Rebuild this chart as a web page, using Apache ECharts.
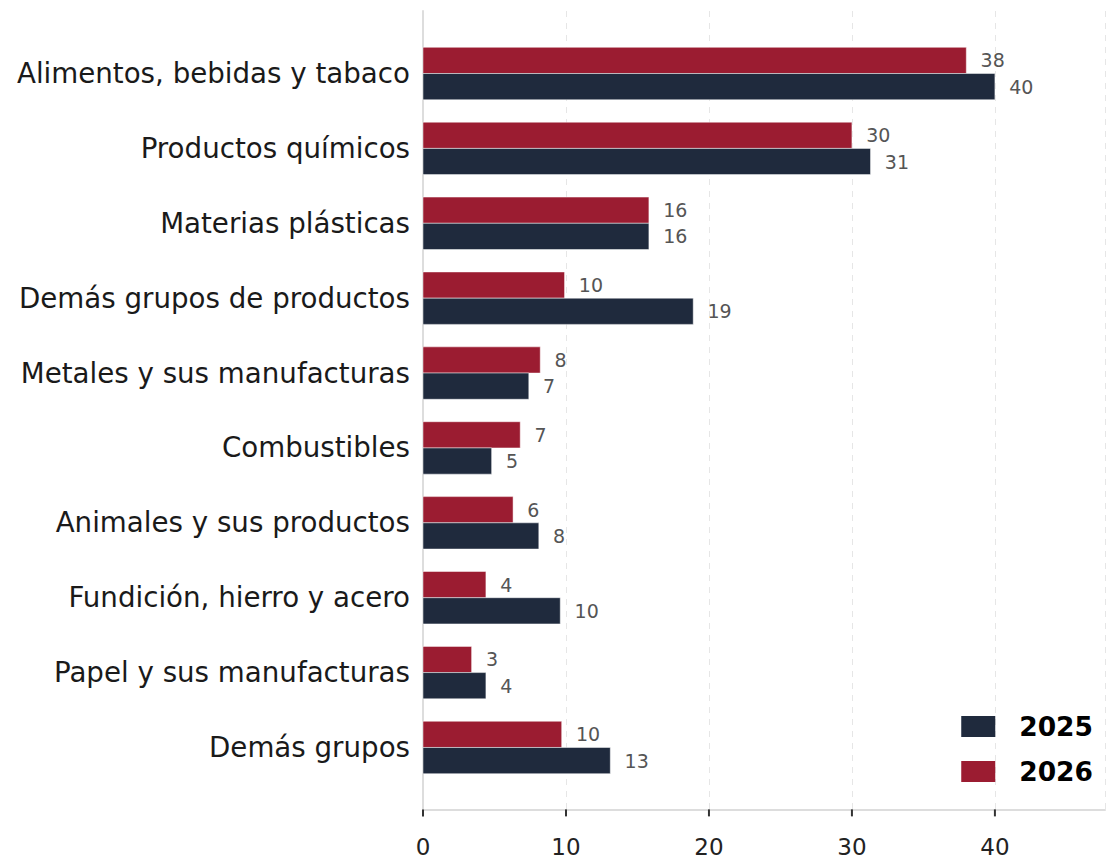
<!DOCTYPE html>
<html>
<head>
<meta charset="utf-8">
<script src="https://cdn.jsdelivr.net/npm/echarts@6/dist/echarts.min.js"></script>
<style>html,body{margin:0;padding:0;background:#fff}#c{width:1107px;height:861px}</style>
</head>
<body>
<div id="c"></div>
<script>
const categories = ["Alimentos, bebidas y tabaco","Productos químicos","Materias plásticas","Demás grupos de productos","Metales y sus manufacturas","Combustibles","Animales y sus productos","Fundición, hierro y acero","Papel y sus manufacturas","Demás grupos"];
const values2025 = [40.0, 31.3, 15.8, 18.9, 7.4, 4.8, 8.1, 9.6, 4.4, 13.1];
const values2026 = [38.0, 30.0, 15.8, 9.9, 8.2, 6.8, 6.3, 4.4, 3.4, 9.7];
const xTicks = [0, 10, 20, 30, 40];

const FONT = "DejaVu Sans";
const NAVY = "#1f2a3d";
const RED = "#9b1c31";
const BARH = 0.35;
const Y_MIN = -0.835, Y_MAX = 9.835;

function makeRender(color, side) {
  return function (params, api) {
    const i = api.value(1);
    const v = api.value(0);
    const y0 = side < 0 ? i - BARH : i;
    const y1 = side < 0 ? i : i + BARH;
    const p0 = api.coord([0, y0]);
    const p1 = api.coord([v, y1]);
    const top = Math.min(p0[1], p1[1]);
    const h = Math.abs(p1[1] - p0[1]);
    const lbl = api.coord([v + 1, (y0 + y1) / 2]);
    return {
      type: 'group',
      children: [
        { type: 'rect', shape: { x: p0[0], y: top, width: p1[0] - p0[0], height: h },
          style: { fill: color, stroke: 'rgba(255,255,255,0.6)', lineWidth: 0.8 } },
        { type: 'text', x: lbl[0], y: lbl[1],
          style: { text: String(Math.round(v)), fill: '#555', font: '19px "' + FONT + '"',
                   textAlign: 'left', textVerticalAlign: 'middle' } }
      ]
    };
  };
}

function renderTick(params, api) {
  const p = api.coord([api.value(0), api.value(1)]);
  return { type: 'rect', z2: 100, shape: { x: p[0] - 1, y: p[1] + 2, width: 2, height: 7 },
           style: { fill: '#333333' } };
}

const chart = echarts.init(document.getElementById('c'), null, { renderer: 'svg' });
chart.setOption({
  animation: false,
  textStyle: { fontFamily: FONT },
  grid: { left: 423, right: 2, top: 11, bottom: 51, containLabel: false },
  xAxis: {
    type: 'value', min: 0, max: 47.7, interval: 10,
    axisLine: { show: true, onZero: false, lineStyle: { color: '#dddddd', width: 2 } },
    axisTick: { show: false },
    axisLabel: { color: '#222', fontSize: 23, margin: 25, customValues: xTicks, fontFamily: FONT },
    splitLine: { show: true, lineStyle: { color: '#e6e6e6', type: [6, 6], width: 1 } }
  },
  yAxis: {
    type: 'value', inverse: true, min: Y_MIN, max: Y_MAX,
    axisLine: { show: true, onZero: false, lineStyle: { color: '#dddddd', width: 2 } },
    axisTick: { show: false },
    splitLine: { show: false },
    axisLabel: {
      customValues: categories.map((c, i) => i),
      formatter: v => categories[Math.round(v)],
      color: '#1a1a1a', fontSize: 27.7, margin: 13, fontFamily: FONT
    }
  },
  legend: {
    orient: 'vertical', right: 14, top: 713, padding: 0,
    itemWidth: 34, itemHeight: 21, itemGap: 18, icon: 'rect',
    data: ['2025', '2026'],
    textStyle: { fontSize: 26.5, fontWeight: 'bold', color: '#000', fontFamily: FONT, padding: [0, 0, 0, 19] }
  },
  series: [
    { name: '2026', type: 'custom', itemStyle: { color: RED },
      data: values2026.map((v, i) => [v, i]), encode: { x: 0, y: 1 },
      renderItem: makeRender(RED, -1) },
    { name: '2025', type: 'custom', itemStyle: { color: NAVY },
      data: values2025.map((v, i) => [v, i]), encode: { x: 0, y: 1 },
      renderItem: makeRender(NAVY, 1) },
    { name: 'ticks', type: 'custom', clip: false, silent: true, z: 10,
      data: xTicks.map(v => [v, 9.8]), encode: { x: 0, y: 1 },
      renderItem: renderTick }
  ]
});
</script>
</body>
</html>
